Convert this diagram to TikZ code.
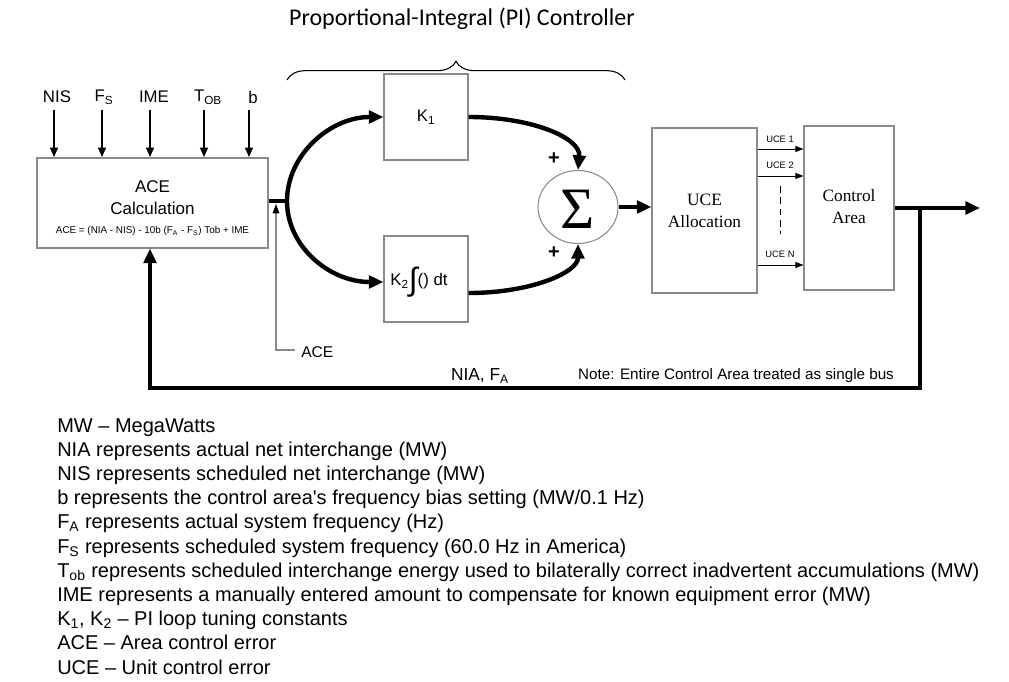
\documentclass[tikz,border=0pt]{standalone}
\usepackage{fontspec}
\setmainfont{Liberation Sans}
\newfontfamily\serifr{Liberation Serif}
\newfontfamily\calib{Carlito}
\usetikzlibrary{arrows.meta,decorations.pathreplacing,shapes.geometric,calc}
\definecolor{boxgray}{HTML}{8A8A8A}
\newcommand{\straightq}{\XeTeXglyph\numexpr\XeTeXcharglyph"27\relax}
\begin{document}
\begin{tikzpicture}[x=0.75pt,y=-0.75pt,
  box/.style={draw=boxgray,line width=0.8pt,fill=white,inner sep=0pt},
  bigline/.style={line width=3.3pt,-{Triangle[length=11pt,width=9.5pt]}},
  bigplain/.style={line width=3.3pt},
  inarrow/.style={line width=1.1pt,-{Triangle[length=7pt,width=6pt]}},
  ucearrow/.style={line width=0.7pt,-{Triangle[length=6pt,width=4.5pt]}},
  lbl/.style={inner sep=0pt,font=\fontsize{12.6}{14}\selectfont},
  small/.style={inner sep=0pt,font=\fontsize{7}{8}\selectfont},
  legend/.style={inner sep=0pt,anchor=base west,font=\fontsize{15}{17}\selectfont}]
\fill[white] (0,0) rectangle (1009,681);
\useasboundingbox (0,0) rectangle (1009,681);

% title and brace
\node[inner sep=0pt,font=\calib\fontsize{18}{20}\selectfont] (title) at (462,19) {Proportional-Integral (PI) Controller};
\coordinate (brl) at (287,80);
\coordinate (brr) at (625,80);
\draw[line width=0.8pt,decorate,decoration={brace,amplitude=14pt}] (brl) -- (brr);

% ACE box
\node[box,minimum width=231*0.75pt,minimum height=90*0.75pt] (ace) at (152.5,203) {};
\node[inner sep=0pt,font=\fontsize{12.75}{14}\selectfont] (acet) at (152.5,187) {ACE};
\node[inner sep=0pt,font=\fontsize{12.75}{14}\selectfont] (calc) at (152.5,208) {Calculation};
\node[inner sep=0pt,font=\fontsize{7.4}{8}\selectfont] (form) at (152.5,231) {ACE = (NIA - NIS) - 10b (F\textsubscript{A} - F\textsubscript{S}) Tob + IME};

% inputs
\node[lbl] (nis) at (57,97) {NIS};
\node[lbl] (fs) at (104,97) {F\textsubscript{S}};
\node[lbl] (ime) at (154,97) {IME};
\node[lbl] (tob) at (208,97) {T\textsubscript{OB}};
\node[lbl] (bb) at (253,97) {b};
\draw[inarrow] (54,110) -- (54,157);
\draw[inarrow] (102,110) -- (102,157);
\draw[inarrow] (150,110) -- (150,157);
\draw[inarrow] (204,110) -- (204,157);
\draw[inarrow] (249,110) -- (249,157);

% PI boxes
\node[box,minimum width=84*0.75pt,minimum height=86*0.75pt] (k1) at (426,117) {};
\node[lbl] (k1t) at (426,117) {K\textsubscript{1}};
\node[box,minimum width=84*0.75pt,minimum height=86*0.75pt] (k2) at (426,279) {};
\node[lbl,font=\fontsize{12.6}{14}\selectfont] (k2t) at (419,282) {K\textsubscript{2}\raisebox{-0.5ex}{\fontsize{24}{24}\selectfont ∫}() dt};

% sum
\node[box,ellipse,minimum width=80*0.75pt,minimum height=73*0.75pt] (sum) at (578,207) {};
\node[inner sep=0pt,font=\serifr\fontsize{44}{44}\selectfont] (sig) at (578,209) {Σ};
\node[inner sep=0pt,font=\bfseries\fontsize{15}{15}\selectfont] (p1) at (554,159) {+};
\node[inner sep=0pt,font=\bfseries\fontsize{15}{15}\selectfont] (p2) at (554,253) {+};

% UCE allocation and control area
\node[box,minimum width=105*0.75pt,minimum height=165*0.75pt] (uce) at (704.5,210.5) {};
\node[inner sep=0pt,font=\serifr\fontsize{13}{16.5}\selectfont,align=center] (ucet) at (704.5,211) {UCE\\Allocation};
\node[box,minimum width=90*0.75pt,minimum height=164*0.75pt] (ca) at (849,208) {};
\node[inner sep=0pt,font=\serifr\fontsize{13}{16.5}\selectfont,align=center] (cat) at (849,207) {Control\\Area};

\draw[ucearrow] (uce.east |- 0,149) -- (ca.west |- 0,149);
\draw[ucearrow] (uce.east |- 0,176) -- (ca.west |- 0,176);
\draw[ucearrow] (uce.east |- 0,265) -- (ca.west |- 0,265);
\node[small] (u1) at (780,139) {UCE 1};
\node[small] (u2) at (780,165) {UCE 2};
\node[small] (un) at (780,254) {UCE N};
\coordinate (dtop) at (780,186);
\coordinate (dbot) at (780,234);
\draw[line width=0.7pt,dash pattern=on 5pt off 3.5pt] (dtop) -- (dbot);

% thick connectors
\coordinate (split) at (287,201);
\draw[bigplain] (ace.east |- split) -- (split);
\draw[bigline] (split) .. controls (287,155) and (330,117) .. (k1.west);
\draw[bigline] (split) .. controls (287,247) and (330,282) .. (k2.west |- 0,282);
\draw[bigline] (k1.east) .. controls (532,117) and (581,138) .. (sum.north);
\draw[bigline] ($(k2.east)+(0,14)$) .. controls (532,293) and (578,272) .. (sum.south);
\draw[bigline] (sum.east) -- (uce.west |- sum.east);

\coordinate (out) at (980,208);
\coordinate (j2) at (920,208);
\coordinate (c1) at (920,388);
\coordinate (c2) at (150,388);
\draw[bigline] (ca.east |- out) -- (out);
\draw[bigline] (j2) -- (c1) -- (c2) -- (c2 |- ace.south);

% thin ACE tap
\node[inner sep=0pt,anchor=west,font=\fontsize{11.7}{13}\selectfont] (acel) at (301,352) {ACE};
\coordinate (acec) at (276,350);
\draw[draw=boxgray,line width=0.8pt,-{Triangle[length=7pt,width=5pt,color=black]}] (acel.west |- acec) ++(-6,0) -- (acec) -- (276,204);

% feedback labels
\node[inner sep=0pt,font=\fontsize{13}{14}\selectfont] (nia) at (480,376) {NIA, F\textsubscript{A}};
\node[inner sep=0pt,font=\fontsize{11.4}{13}\selectfont] (note) at (736,376) {Note: Entire Control Area treated as single bus};

% legend
\node[legend] (l1) at (57,432) {MW – MegaWatts};
\node[legend] (l2) at (57,456.2) {NIA represents actual net interchange (MW)};
\node[legend] (l3) at (57,480.4) {NIS represents scheduled net interchange (MW)};
\node[legend] (l4) at (57,504.6) {b represents the control area\straightq s frequency bias setting (MW/0.1 Hz)};
\node[legend] (l5) at (57,528.8) {F\textsubscript{A} represents actual system frequency (Hz)};
\node[legend] (l6) at (57,553) {F\textsubscript{S} represents scheduled system frequency (60.0 Hz in America)};
\node[legend] (l7) at (57,577.2) {T\textsubscript{ob} represents scheduled interchange energy used to bilaterally correct inadvertent accumulations (MW)};
\node[legend] (l8) at (57,601.4) {IME represents a manually entered amount to compensate for known equipment error (MW)};
\node[legend] (l9) at (57,625.6) {K\textsubscript{1}, K\textsubscript{2} – PI loop tuning constants};
\node[legend] (l10) at (57,649.8) {ACE – Area control error};
\node[legend] (l11) at (57,674) {UCE – Unit control error};
\end{tikzpicture}
\end{document}
